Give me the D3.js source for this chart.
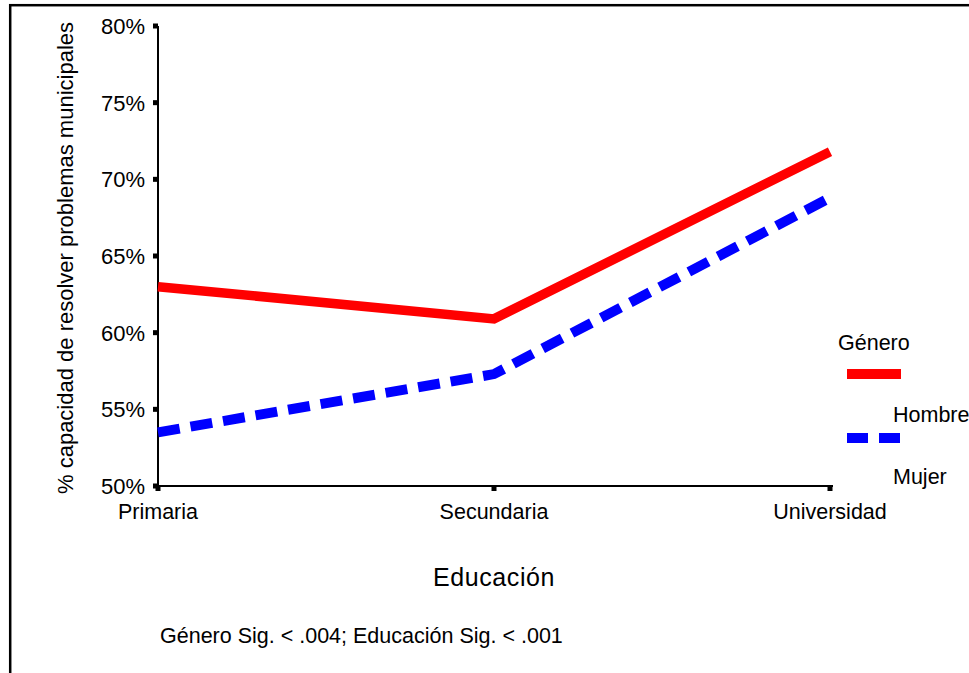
<!DOCTYPE html>
<html><head><meta charset="utf-8">
<script src="https://cdn.jsdelivr.net/npm/d3@7"></script>
<style>body{margin:0;background:#fff}svg{display:block;font-family:"Liberation Sans",Arial,sans-serif}</style>
</head><body>
<svg id="c" width="969" height="673"></svg>
<script>
const categories = ["Primaria", "Secundaria", "Universidad"];
const hombre = [63.0, 60.9, 71.8];
const mujer = [53.5, 57.3, 68.8];
const yTicks = [50, 55, 60, 65, 70, 75, 80];
const seriesNames = ["Hombre", "Mujer"];

const svg = d3.select("#c");
svg.append("rect").attr("x", 10.2).attr("y", 5.2).attr("width", 1000).attr("height", 1000)
  .attr("fill", "none").attr("stroke", "#000").attr("stroke-width", 2.5);

const x = d3.scalePoint().domain(categories).range([158, 830]);
const y = d3.scaleLinear().domain([50, 80]).range([486, 26]);

// y axis
const gy = svg.append("g");
gy.append("line").attr("x1", 158).attr("x2", 158).attr("y1", y(80)).attr("y2", y(50)).attr("stroke", "#000").attr("stroke-width", 2);
gy.selectAll("rect.t").data(yTicks).join("rect")
  .attr("x", 153).attr("y", d => y(d) - 2.5).attr("width", 5).attr("height", 5).attr("fill", "#000");
gy.selectAll("text").data(yTicks).join("text")
  .attr("x", 145).attr("y", d => y(d) + 8).attr("text-anchor", "end")
  .attr("font-size", 22).text(d => d + "%");

// x axis
const gx = svg.append("g");
gx.append("line").attr("x1", 158).attr("x2", 833).attr("y1", 486).attr("y2", 486).attr("stroke", "#000").attr("stroke-width", 2);
gx.selectAll("rect").data(categories).join("rect")
  .attr("x", d => x(d) - 2.5).attr("y", 486).attr("width", 5).attr("height", 5).attr("fill", "#000");
gx.selectAll("text").data(categories).join("text")
  .attr("x", d => x(d)).attr("y", 519).attr("text-anchor", "middle").attr("font-size", 21.5).text(d => d);

// titles
svg.append("text").attr("transform", "translate(73,258) rotate(-90)").attr("text-anchor", "middle")
  .attr("font-size", 22).text("% capacidad de resolver problemas municipales");
svg.append("text").attr("x", 494).attr("y", 586).attr("text-anchor", "middle")
  .attr("font-size", 25).attr("letter-spacing", 0.6).text("Educación");
svg.append("text").attr("x", 160).attr("y", 643).attr("font-size", 21.5)
  .text("Género Sig. < .004; Educación Sig. < .001");

// lines
const line = d3.line().x((d, i) => x(categories[i])).y(d => y(d));
svg.append("path").datum(hombre).attr("d", line).attr("fill", "none")
  .attr("stroke", "#ff0000").attr("stroke-width", 9.5).attr("stroke-linejoin", "miter");
svg.append("path").datum(mujer).attr("d", line).attr("fill", "none")
  .attr("stroke", "#0000ff").attr("stroke-width", 10).attr("stroke-dasharray", "22,11");

// legend
svg.append("text").attr("x", 838).attr("y", 350).attr("font-size", 21.5).text("Género");
svg.append("line").attr("x1", 847).attr("x2", 901).attr("y1", 374).attr("y2", 374)
  .attr("stroke", "#ff0000").attr("stroke-width", 10);
svg.append("text").attr("x", 893).attr("y", 422).attr("font-size", 21.5).text(seriesNames[0]);
svg.append("line").attr("x1", 847).attr("x2", 901).attr("y1", 438).attr("y2", 438)
  .attr("stroke", "#0000ff").attr("stroke-width", 10).attr("stroke-dasharray", "21,11");
svg.append("text").attr("x", 893).attr("y", 484).attr("font-size", 21.5).text(seriesNames[1]);
</script>
</body></html>
